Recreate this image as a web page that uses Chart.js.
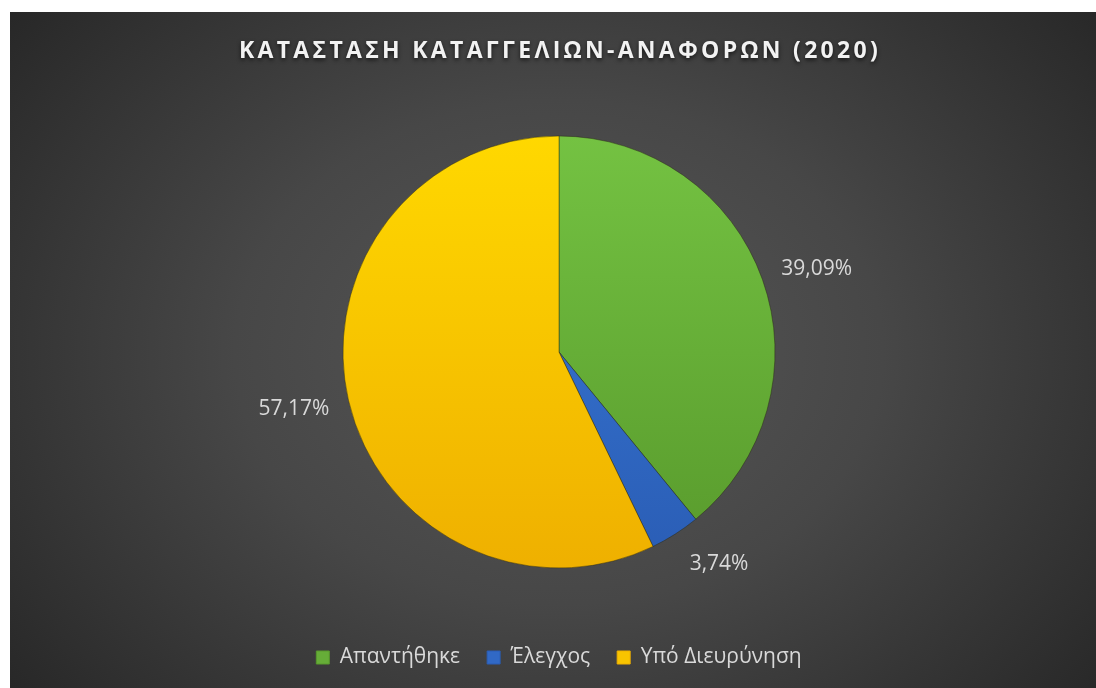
<!DOCTYPE html>
<html>
<head>
<meta charset="utf-8">
<script src="https://cdn.jsdelivr.net/npm/chart.js@4/dist/chart.umd.min.js"></script>
<style>
  body { margin: 0; background: #ffffff; }
  #frame {
    position: absolute; left: 10px; top: 12px; width: 1086px; height: 676px;
    background: radial-gradient(ellipse 720px 560px at 549px 340px, #575757 0%, #474747 45%, #262626 100%);
  }
</style>
</head>
<body>
<div id="frame"><canvas id="myChart"></canvas></div>
<script>
const chartTitle = 'ΚΑΤΑΣΤΑΣΗ ΚΑΤΑΓΓΕΛΙΩΝ-ΑΝΑΦΟΡΩΝ (2020)'
const categories = ['Απαντήθηκε', 'Έλεγχος', 'Υπό Διευρύνηση']
const shares = [39.09, 3.74, 57.17]
const valueLabels = ['39,09%', '3,74%', '57,17%']

const topColors = ['#74c242', '#3a7bd9', '#ffd800']
const bottomColors = ['#589a2c', '#2a5db5', '#efb000']
const solidColors = ['#66ad38', '#3169c6', '#f8c400']
const pieRadius = 216

// vertical gradient per slice, like the Excel fill
function sliceFill (context) {
  const chart = context.chart
  const area = chart.chartArea
  if (!area) return solidColors[context.dataIndex]
  const cy = (area.top + area.bottom) / 2
  if (!isFinite(cy)) return solidColors[context.dataIndex]
  const g = chart.ctx.createLinearGradient(0, cy - pieRadius, 0, cy + pieRadius)
  g.addColorStop(0, topColors[context.dataIndex])
  g.addColorStop(1, bottomColors[context.dataIndex])
  return g
}

const titlePlugin = {
  id: 'excelTitle',
  afterDraw (chart) {
    const ctx = chart.ctx
    ctx.save()
    ctx.font = 'bold 23px "Open Sans"'
    ctx.letterSpacing = '3.3px'
    ctx.fillStyle = '#f2f2f2'
    ctx.textAlign = 'center'
    ctx.textBaseline = 'middle'
    ctx.shadowColor = 'rgba(0,0,0,0.65)'
    ctx.shadowBlur = 4
    ctx.shadowOffsetY = 2
    ctx.fillText(chartTitle, 550, 39)
    ctx.restore()
  }
}

// labels outside the slices, roughly where Excel puts them
const labelPlugin = {
  id: 'outsideLabels',
  afterDatasetsDraw (chart) {
    const ctx = chart.ctx
    const meta = chart.getDatasetMeta(0)
    ctx.save()
    ctx.font = '21px "Open Sans"'
    ctx.fillStyle = '#d9d9d9'
    ctx.textAlign = 'center'
    ctx.textBaseline = 'middle'
    meta.data.forEach((arc, i) => {
      const mid = (arc.startAngle + arc.endAngle) / 2
      const dx = Math.cos(mid)
      const dy = Math.sin(mid)
      const w = ctx.measureText(valueLabels[i]).width
      const x = arc.x + dx * (arc.outerRadius + 5) + Math.sign(dx) * w * 0.7
      const y = arc.y + dy * (arc.outerRadius + 34) + 1
      ctx.fillText(valueLabels[i], x, y)
    })
    ctx.restore()
  }
}

const configuration = {
  type: 'pie',
  data: {
    labels: categories,
    datasets: [{
      data: shares,
      backgroundColor: sliceFill,
      borderColor: 'rgba(40,40,20,0.45)',
      borderWidth: 1,
      radius: pieRadius
    }]
  },
  options: {
    responsive: true,
    maintainAspectRatio: false,
    animation: false,
    layout: {
      padding: { top: 72, left: 12, right: 0, bottom: 10 }
    },
    plugins: {
      legend: {
        display: true,
        position: 'bottom',
        labels: {
          boxWidth: 13,
          boxHeight: 13,
          padding: 27,
          color: '#d9d9d9',
          font: { family: 'Open Sans', size: 21 },
          generateLabels: (chart) => categories.map((name, i) => ({
            text: name,
            fillStyle: solidColors[i],
            strokeStyle: bottomColors[i],
            lineWidth: 1,
            fontColor: '#d9d9d9',
            hidden: false,
            index: i
          }))
        }
      },
      title: { display: false },
      tooltip: { enabled: false }
    }
  },
  plugins: [titlePlugin, labelPlugin]
}

const ctx = document.getElementById('myChart').getContext('2d')
const myChart = new Chart(ctx, configuration)
</script>
</body>
</html>
